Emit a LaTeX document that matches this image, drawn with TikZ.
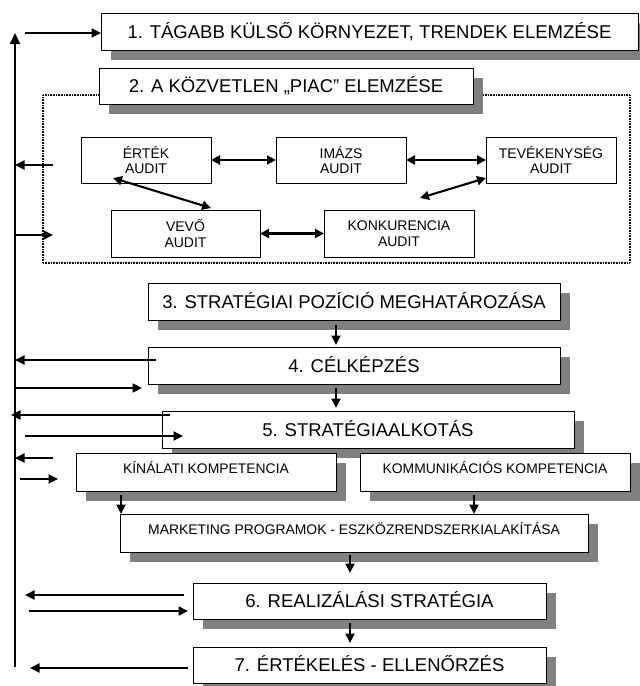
\documentclass[tikz,border=0pt]{standalone}
\usepackage{fontspec}
\setmainfont{Liberation Sans}
\usetikzlibrary{arrows.meta,shadows,calc}
\definecolor{shade}{HTML}{808080}

\begin{document}
\begin{tikzpicture}[x=1pt,y=-1pt,
  every node/.style={inner sep=0pt, outer sep=0pt},
  stage/.style={draw, line width=1pt, fill=white, anchor=north west,
    drop shadow={shadow xshift=9.5pt, shadow yshift=-9.5pt, fill=shade, opacity=1},
    font=\fontsize{18.5}{22}\selectfont, text height=13.3pt, text depth=0pt},
  substage/.style={stage, font=\fontsize{13.9}{16}\selectfont,
    text height=10pt, text depth=8pt},
  audit/.style={draw, line width=1pt, fill=white, anchor=north west,
    align=center, font=\fontsize{14}{15.5}\selectfont},
  frame/.style={draw, line width=1.4pt, dash pattern=on 1pt off 0.6pt,
    anchor=north west},
  arr/.style={-{Triangle[length=9.5pt,width=9pt]}, line width=2.1pt},
  dbl/.style={{Triangle[length=9pt,width=9pt]}-{Triangle[length=9pt,width=9pt]},
    line width=2.1pt},
]
\useasboundingbox (0,0) rectangle (640,686);

% feedback spine on the left
\coordinate (spine) at (15,0);
\coordinate (spineBot) at (15,667);
\coordinate (spineTop) at (15,33);

% market analysis frame
\node[frame, minimum width=587pt, minimum height=168pt] (market) at (43,95) {};

% main stages
\node[stage, minimum width=537pt, minimum height=37pt] (n1) at (101,13)
  {1. TÁGABB KÜLSŐ KÖRNYEZET, TRENDEK ELEMZÉSE};
\node[stage, minimum width=374pt, minimum height=36pt] (n2) at (99,68)
  {2. A KÖZVETLEN „PIAC” ELEMZÉSE};

% audits
\node[audit, minimum width=130pt, minimum height=46pt] (ertek) at (81,137) {ÉRTÉK\\AUDIT};
\node[audit, minimum width=130pt, minimum height=46pt] (imazs) at (276,137) {IMÁZS\\AUDIT};
\node[audit, minimum width=130pt, minimum height=46pt] (tevek) at (486,137) {TEVÉKENYSÉG\\AUDIT};
\node[audit, minimum width=149pt, minimum height=47pt] (vevo) at (111,210) {VEVŐ\\AUDIT};
\node[audit, minimum width=150pt, minimum height=47pt] (konk) at (324,210) {KONKURENCIA\\AUDIT};

\node[stage, minimum width=412pt, minimum height=37pt] (n3) at (148,283)
  {3. STRATÉGIAI POZÍCIÓ MEGHATÁROZÁSA};
\node[stage, minimum width=412pt, minimum height=37pt] (n4) at (148,347)
  {4. CÉLKÉPZÉS};
\node[stage, minimum width=412pt, minimum height=37pt] (n5) at (162,411)
  {5. STRATÉGIAALKOTÁS};
\node[substage, minimum width=260pt, minimum height=38pt] (kin) at (76,453)
  {KÍNÁLATI KOMPETENCIA};
\node[substage, minimum width=270pt, minimum height=38pt] (komm) at (360,453)
  {KOMMUNIKÁCIÓS KOMPETENCIA};
\node[substage, minimum width=468pt, minimum height=38pt] (mark) at (120,514)
  {MARKETING PROGRAMOK - ESZKÖZRENDSZERKIALAKÍTÁSA};
\node[stage, minimum width=353pt, minimum height=36pt] (n6) at (193,583)
  {6. REALIZÁLÁSI STRATÉGIA};
\node[stage, minimum width=353pt, minimum height=36pt] (n7) at (193,647)
  {7. ÉRTÉKELÉS - ELLENŐRZÉS};

% spine
\draw[line width=2.1pt, -{Triangle[length=11pt,width=10pt]}] (spineBot) -- (spineTop);
\draw[arr] ($(n1.west -| spine)+(10,1.5)$) -- ($(n1.west)+(0,1.5)$);

% market frame links
\coordinate (m1) at ($(market.north west)+(10,70)$);
\coordinate (m2) at ($(market.north west)+(10,140)$);
\draw[arr] (m1) -- (m1 -| spine);
\draw[arr] (m2 -| spine) -- (m2);

% audit links
\draw[dbl] (ertek.east) -- (imazs.west);
\draw[dbl] (imazs.east) -- (tevek.west);
\draw[dbl] ($(ertek.south west)+(32,-5)$) -- ($(vevo.north west)+(100,-2)$);
\draw[dbl] ($(tevek.south west)+(0,-5)$) -- ($(konk.north west)+(96,-12)$);
\draw[dbl] (vevo.east) -- (konk.west);

% stage flow
\draw[arr] ($(n3.south)+(-18,5)$) -- ($(n4.north)+(-18,-2)$);
\draw[arr] ($(n4.south)+(-18,4)$) -- ($(n5.north)+(-32,-3)$);
\coordinate (k1) at ($(kin.south west)+(45,4)$);
\draw[arr] (k1) -- (k1 |- mark.north);
\coordinate (k2) at ($(komm.south west)+(114,4)$);
\draw[arr] (k2) -- (k2 |- mark.north);
\draw[arr] ($(mark.south west)+(230,3)$) -- ($(n6.north west)+(157,-10)$);
\draw[arr] ($(n6.south west)+(157,4)$) -- ($(n7.north west)+(157,-4)$);

% feedback arrows to and from the spine
\coordinate (c4) at ($(n4.north west)+(8,13)$);
\coordinate (d4) at ($(n4.south west)+(-6,4)$);
\draw[arr] (c4) -- (c4 -| spine);
\draw[arr] (d4 -| spine) -- (d4);
\coordinate (c5) at ($(n5.north west)+(8,4)$);
\coordinate (d5) at ($(n5.north west)+(21,25)$);
\draw[arr] (c5) -- ($(c5 -| spine)+(-4,0)$);
\draw[arr] ($(d5 -| spine)+(10,0)$) -- (d5);
\coordinate (c6) at ($(kin.north west)+(-23,5)$);
\coordinate (d6) at ($(kin.north west)+(-18,26)$);
\draw[arr] (c6) -- (c6 -| spine);
\draw[arr] ($(d6 -| spine)+(5,0)$) -- (d6);
\coordinate (c7) at ($(n6.north west)+(-9,12)$);
\coordinate (d7) at ($(n6.north west)+(-5,28)$);
\draw[arr] (c7) -- ($(c7 -| spine)+(10,0)$);
\draw[arr] ($(d7 -| spine)+(14,0)$) -- (d7);
\coordinate (c8) at ($(n7.north west)+(-5,21)$);
\draw[arr] (c8) -- ($(c8 -| spine)+(15,0)$);
\end{tikzpicture}
\end{document}
